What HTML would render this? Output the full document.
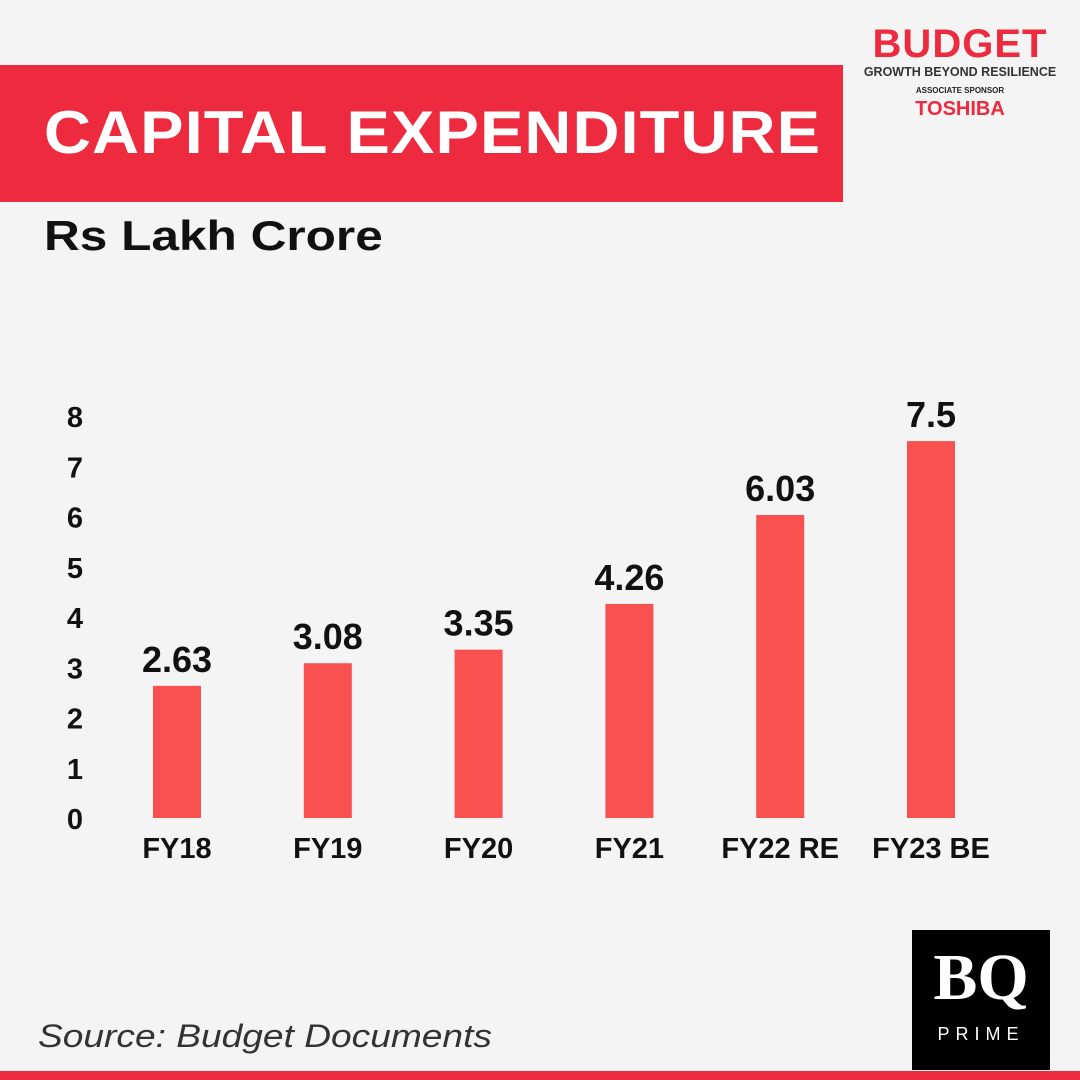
<!DOCTYPE html>
<html><head><meta charset="utf-8"><style>
body{margin:0;width:1080px;height:1080px;position:relative;background:#f4f4f4;font-family:"Liberation Sans",sans-serif;overflow:hidden}
.abs{position:absolute}
</style></head><body>
<div class="abs" style="left:0;top:65px;width:843px;height:137px;background:#ee2a3e"></div>
<div class="abs" style="left:44px;top:98px;font-size:60px;font-weight:bold;color:#fff;letter-spacing:1px;transform:scaleX(1.084);transform-origin:0 0;white-space:nowrap">CAPITAL EXPENDITURE</div>
<div class="abs" style="left:44px;top:212px;font-size:42px;font-weight:bold;color:#111;transform:scaleX(1.18);transform-origin:0 0;white-space:nowrap">Rs Lakh Crore</div>
<div class="abs" style="left:862px;top:24px;width:196px;text-align:center;color:#ee2a3e">
 <div style="font-size:40px;font-weight:bold;line-height:40px;letter-spacing:1px">BUDGET</div>
 <div style="font-size:12.5px;font-weight:bold;color:#333;line-height:16px">GROWTH BEYOND RESILIENCE</div>
 <div style="font-size:8px;font-weight:bold;color:#222;margin-top:6px">ASSOCIATE SPONSOR</div>
 <div style="font-size:20px;font-weight:bold;margin-top:3px">TOSHIBA</div>
</div>
<svg class="abs" style="left:0;top:0" width="1080" height="1080" id="chart"></svg>
<div class="abs" style="left:38px;top:1018px;font-size:32px;font-style:italic;color:#333;transform:scaleX(1.16);transform-origin:0 0;white-space:nowrap">Source: Budget Documents</div>
<div class="abs" style="left:912px;top:930px;width:138px;height:140px;background:#000;color:#fff;text-align:center">
 <div style="font-family:'Liberation Serif',serif;font-weight:bold;font-size:66px;line-height:80px;margin-top:8px">BQ</div>
 <div style="font-size:18px;letter-spacing:6px;margin-top:6px">PRIME</div>
</div>
<div class="abs" style="left:0;top:1071px;width:1080px;height:9px;background:#ee2a3e"></div>
<script>
const categories=["FY18","FY19","FY20","FY21","FY22 RE","FY23 BE"];
const values=[2.63,3.08,3.35,4.26,6.03,7.5];
const labels=["2.63","3.08","3.35","4.26","6.03","7.5"];
const ticks=[0,1,2,3,4,5,6,7,8];
const svg=document.getElementById('chart');const NS="http://www.w3.org/2000/svg";
const y=v=>818-v*50.25;const x=i=>177+i*150.8;
function mk(t,a,txt){const e=document.createElementNS(NS,t);for(const k in a)e.setAttribute(k,a[k]);if(txt!=null)e.textContent=txt;svg.appendChild(e);return e;}
ticks.forEach(t=>{const e=mk('text',{x:75,y:y(t)+11,'text-anchor':'middle','font-size':29,'font-weight':'bold',fill:'#111','font-family':'Liberation Sans'},t);

});
values.forEach((v,i)=>{
const r=mk('rect',{x:x(i)-24,y:y(v),width:48,height:y(0)-y(v),fill:'#f95050'});


const l=mk('text',{x:x(i),y:y(v)-14,'text-anchor':'middle','font-size':36,'font-weight':'bold',fill:'#111','font-family':'Liberation Sans'},labels[i]);


const c=mk('text',{x:x(i),y:858,'text-anchor':'middle','font-size':29,'font-weight':'bold',fill:'#111','font-family':'Liberation Sans'},categories[i]);


});
</script>
</body></html>
